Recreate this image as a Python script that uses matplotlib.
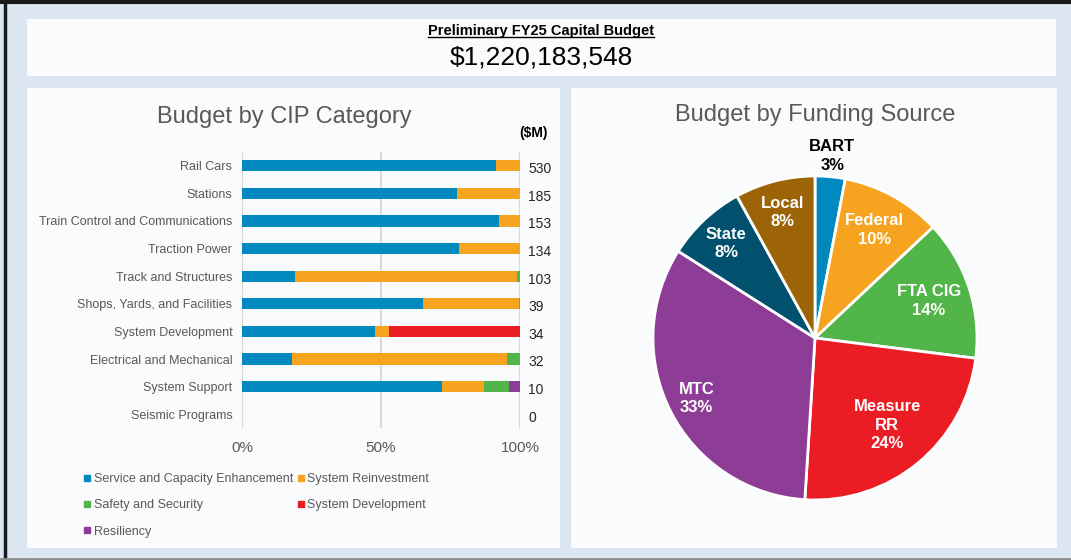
import numpy as np
import matplotlib.pyplot as plt
from matplotlib.patches import Rectangle
from matplotlib.lines import Line2D

# Data
categories = ['Rail Cars', 'Stations', 'Train Control and Communications', 'Traction Power',
              'Track and Structures', 'Shops, Yards, and Facilities', 'System Development',
              'Electrical and Mechanical', 'System Support', 'Seismic Programs']
totals_m = [530, 185, 153, 134, 103, 39, 34, 32, 10, 0]

series_names = ['Service and Capacity Enhancement', 'System Reinvestment',
                'Safety and Security', 'System Development', 'Resiliency']
sce = [91.5, 77.2, 92.3, 78.2, 18.9, 65.0, 48.0, 18.0, 72.0, 0]
sr  = [8.5, 22.8, 7.7, 21.8, 80.2, 34.5, 4.9, 77.5, 14.9, 0]
ss  = [0, 0, 0, 0, 0.9, 0.5, 0, 4.5, 9.1, 0]
sd  = [0, 0, 0, 0, 0, 0, 47.1, 0, 0, 0]
res = [0, 0, 0, 0, 0, 0, 0, 0, 4.0, 0]

fund_labels = ['BART', 'Federal', 'FTA CIG', 'Measure\nRR', 'MTC', 'State', 'Local']
fund_pct    = [3, 10, 14, 24, 33, 8, 8]

total_budget = '$1,220,183,548'

# Styling
W, H = 1071, 560
BG     = '#DCE6F2'
PANEL  = '#F9FBFD'
GRAY   = '#595959'
bar_colors  = ['#0089BF', '#F6A31F', '#52B549', '#EC1C24', '#8E3D96']
fund_colors = ['#0089BF', '#F6A31F', '#52B549', '#EC1C24', '#8E3D96', '#00506E', '#9C6406']

plt.rcParams['font.family'] = ['Liberation Sans', 'DejaVu Sans']


def fx(px):
    return px / W


def fy(py):
    return 1 - py / H


fig = plt.figure(figsize=(W / 100, H / 100), dpi=100, facecolor=BG)

# --- panels (behind the axes) ---
for (x0, y0, x1, y1) in [(27, 19, 1056, 76), (27, 88, 560, 548), (571, 88, 1057, 548)]:
    fig.patches.append(Rectangle((fx(x0), fy(y1)), fx(x1 - x0), (y1 - y0) / H,
                                 transform=fig.transFigure, facecolor=PANEL,
                                 edgecolor='none', zorder=-5))

# outer border
fig.lines.append(Line2D([0, 1], [fy(1.5), fy(1.5)], transform=fig.transFigure,
                        color='#1a1a1a', lw=3, zorder=-4))
fig.lines.append(Line2D([fx(5), fx(5)], [fy(0), fy(558)], transform=fig.transFigure,
                        color='#1a1a1a', lw=2.5, zorder=-4))
fig.lines.append(Line2D([0, 1], [fy(559), fy(559)], transform=fig.transFigure,
                        color='#8c8c8c', lw=2, zorder=-4))

# --- header ---
head = fig.text(fx(541), fy(31), 'Preliminary FY25 Capital Budget', ha='center', va='center',
                fontsize=10.5, fontweight='bold', color='black')
fig.text(fx(541), fy(58), total_budget, ha='center', va='center', fontsize=19, color='black')

# --- bar chart ---
ax = fig.add_axes([fx(242), fy(428), fx(520 - 242), (428 - 152) / H])
ax.set_facecolor('none')
y = np.arange(len(categories))
left = np.zeros(len(categories))
for vals, name, col in zip([sce, sr, ss, sd, res], series_names, bar_colors):
    ax.barh(y, vals, left=left, height=0.4, color=col, label=name, zorder=2)
    left += np.array(vals)

ax.set_xlim(0, 100)
ax.set_ylim(len(categories) - 0.5, -0.5)
for xv in [0, 50, 100]:
    ax.axvline(xv, color='#D9D9D9', lw=1.5, zorder=1)
for s in ax.spines.values():
    s.set_visible(False)
ax.set_xticks([0, 50, 100])
ax.set_xticklabels(['0%', '50%', '100%'])
ax.tick_params(axis='x', length=0, pad=9, labelsize=11, labelcolor=GRAY)
ax.set_yticks(y)
ax.set_yticklabels(categories)
ax.tick_params(axis='y', length=0, pad=7, labelsize=9, labelcolor=GRAY)

for i, t in enumerate(totals_m):
    ax.text(1.029, i + 0.12, str(t), transform=ax.get_yaxis_transform(), ha='left',
            va='center', fontsize=10, color='#262626')
fig.text(fx(533), fy(133), '($M)', ha='center', va='center', fontsize=10,
         fontweight='bold', color='black')
fig.text(fx(284), fy(117), 'Budget by CIP Category', ha='center', va='center',
         fontsize=17, color=GRAY)

# legend (row-major order across two columns)
handles = [Line2D([], [], marker='s', ls='none', markersize=5, color=c) for c in bar_colors]
order = [0, 2, 4, 1, 3]
fig.legend([handles[i] for i in order], [series_names[i] for i in order],
           loc='upper left', bbox_to_anchor=(fx(83), fy(473)), ncol=2, frameon=False,
           fontsize=9, labelcolor=GRAY, handlelength=0.6, handletextpad=0.25,
           columnspacing=0.3, labelspacing=1.15, borderaxespad=0, borderpad=0)

# --- pie chart ---
cx, cy, r = 815, 338, 162
pax = fig.add_axes([fx(cx - r), fy(cy + r), fx(2 * r), 2 * r / H])
wedges, _ = pax.pie(fund_pct, colors=fund_colors, startangle=90, counterclock=False,
                    radius=1, wedgeprops=dict(edgecolor='white', linewidth=2))
pax.set_xlim(-1, 1)
pax.set_ylim(-1, 1)
pax.set_aspect('equal')
pax.axis('off')

label_r = [1.13, 0.76, 0.74, 0.70, 0.82, 0.80, 0.80]
for w, lab, p, lr in zip(wedges, fund_labels, fund_pct, label_r):
    ang = np.deg2rad((w.theta1 + w.theta2) / 2)
    col = 'black' if lab == 'BART' else 'white'
    pax.text(lr * np.cos(ang), lr * np.sin(ang), f'{lab}\n{p}%', ha='center', va='center',
             fontsize=12, fontweight='bold', color=col, linespacing=1.3, clip_on=False)

fig.text(fx(815), fy(115), 'Budget by Funding Source', ha='center', va='center',
         fontsize=17, color=GRAY)

# underline the header text
fig.canvas.draw()
bb = head.get_window_extent().transformed(fig.transFigure.inverted())
fig.lines.append(Line2D([bb.x0, bb.x1], [bb.y0 + 0.002, bb.y0 + 0.002],
                        transform=fig.transFigure, color='black', lw=1))

fig.savefig('out.png', dpi=100, facecolor=BG)
